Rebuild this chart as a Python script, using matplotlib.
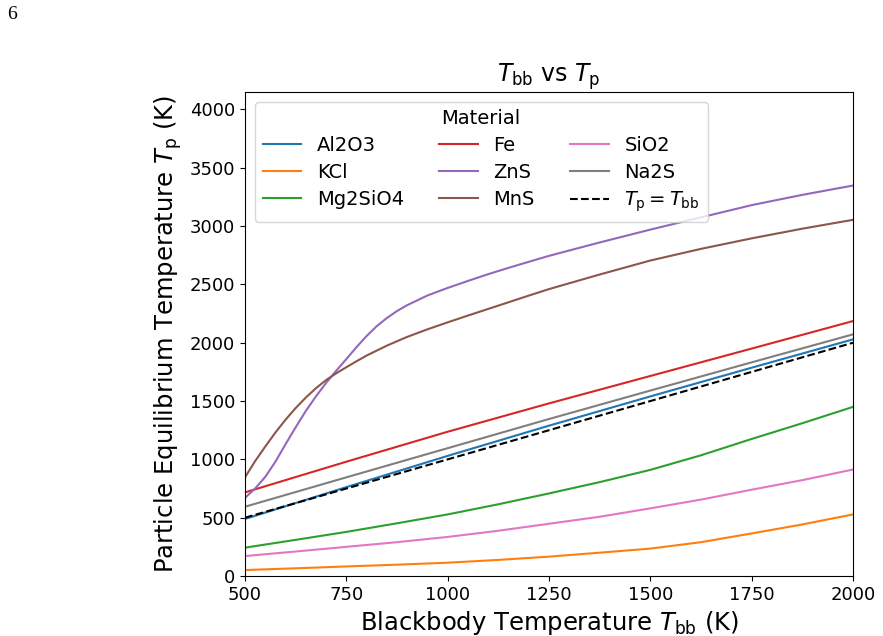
import numpy as np
import matplotlib
matplotlib.use('Agg')
import matplotlib.pyplot as plt

# blackbody temperatures (K) and particle temperatures
t_lin = [500, 750, 1000, 1250, 1500, 1750, 2000]
al2o3 = [489, 762, 1030, 1289, 1540, 1786, 2029]
fe = [717, 980, 1237, 1480, 1715, 1950, 2186]
na2s = [594, 846, 1096, 1346, 1590, 1832, 2072]

t_curv = [500, 625, 750, 875, 1000, 1125, 1250, 1375, 1500, 1625, 1750,
          1875, 2000]
kcl = [51, 66, 82, 97, 114, 138, 166, 200, 235, 290, 365, 442, 528]
mg2sio4 = [243, 310, 378, 452, 528, 615, 708, 805, 910, 1035, 1175, 1310,
           1450]
sio2 = [171, 210, 250, 290, 335, 388, 448, 508, 580, 655, 740, 822, 913]

t_sulf = [500, 525, 550, 575, 600, 625, 650, 675, 700, 725, 750, 775, 800,
          825, 850, 875, 900, 950, 1000, 1050, 1100, 1150, 1200, 1250, 1375,
          1500, 1625, 1750, 1875, 2000]
zns = [670, 750, 850, 980, 1130, 1275, 1415, 1540, 1655, 1760, 1860, 1962,
       2058, 2142, 2212, 2272, 2322, 2405, 2470, 2530, 2588, 2642, 2694,
       2745, 2860, 2970, 3075, 3180, 3268, 3348]
mns = [846, 985, 1110, 1230, 1340, 1440, 1530, 1610, 1680, 1738, 1790, 1841,
       1890, 1933, 1975, 2013, 2050, 2115, 2175, 2233, 2290, 2347, 2404,
       2460, 2585, 2705, 2805, 2895, 2978, 3054]

t_ref = [500, 2000]

fig = plt.figure(figsize=(8.83, 6.36), dpi=100)
ax = fig.add_axes([245/883, 1 - 576/636, 608/883, 484/636])

ax.plot(t_lin, al2o3, color='C0', label='Al2O3')
ax.plot(t_curv, kcl, color='C1', label='KCl')
ax.plot(t_curv, mg2sio4, color='C2', label='Mg2SiO4')
ax.plot(t_lin, fe, color='C3', label='Fe')
ax.plot(t_sulf, zns, color='C4', label='ZnS')
ax.plot(t_sulf, mns, color='C5', label='MnS')
ax.plot(t_curv, sio2, color='C6', label='SiO2')
ax.plot(t_lin, na2s, color='C7', label='Na2S')
ax.plot(t_ref, t_ref, 'k--', label=r'$T_{\rm p} = T_{\rm bb}$')

ax.set_xlim(500, 2000)
ax.set_ylim(0, 4150)
ax.set_xticks([500, 750, 1000, 1250, 1500, 1750, 2000])
ax.set_yticks(np.arange(0, 4001, 500))
ax.tick_params(labelsize=13)

ax.set_xlabel(r'Blackbody Temperature $T_{\rm bb}$ (K)', fontsize=17.5)
ax.set_ylabel(r'Particle Equilibrium Temperature $T_{\rm p}$ (K)', fontsize=17.5)
ax.set_title(r'$T_{\rm bb}$ vs $T_{\rm p}$', fontsize=17)

ax.legend(title='Material', ncol=3, loc='upper left', fontsize=14,
          title_fontsize=14, labelspacing=0.4, columnspacing=1.8)

fig.text(7/883, 1 - 6/636, '6', fontsize=14, family='Liberation Serif',
         va='top', ha='left')

fig.savefig('out.png', dpi=100)
